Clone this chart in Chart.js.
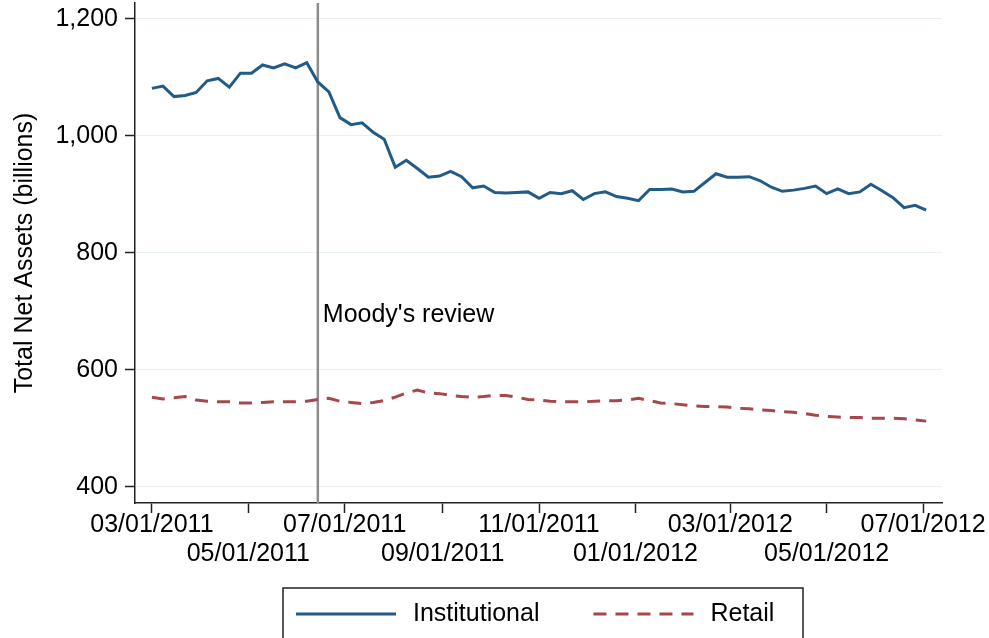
<!DOCTYPE html>
<html>
<head>
<meta charset="utf-8">
<script src="https://cdn.jsdelivr.net/npm/chart.js@4.4.1/dist/chart.umd.min.js"></script>
<style>
  html, body { margin: 0; padding: 0; background: #fff; }
  #wrap { width: 989px; height: 638px; }
</style>
</head>
<body>
<div id="wrap"><canvas id="chart" width="989" height="638"></canvas></div>
<script>
// weekly observations
var weeks = [
    '2011-03-01', '2011-03-08', '2011-03-15', '2011-03-22', '2011-03-29',
    '2011-04-05', '2011-04-12', '2011-04-19', '2011-04-26',
    '2011-05-03', '2011-05-10', '2011-05-17', '2011-05-24', '2011-05-31',
    '2011-06-07', '2011-06-14', '2011-06-21', '2011-06-28',
    '2011-07-05', '2011-07-12', '2011-07-19', '2011-07-26',
    '2011-08-02', '2011-08-09', '2011-08-16', '2011-08-23', '2011-08-30',
    '2011-09-06', '2011-09-13', '2011-09-20', '2011-09-27',
    '2011-10-04', '2011-10-11', '2011-10-18', '2011-10-25',
    '2011-11-01', '2011-11-08', '2011-11-15', '2011-11-22', '2011-11-29',
    '2011-12-06', '2011-12-13', '2011-12-20', '2011-12-27',
    '2012-01-03', '2012-01-10', '2012-01-17', '2012-01-24', '2012-01-31',
    '2012-02-07', '2012-02-14', '2012-02-21', '2012-02-28',
    '2012-03-06', '2012-03-13', '2012-03-20', '2012-03-27',
    '2012-04-03', '2012-04-10', '2012-04-17', '2012-04-24',
    '2012-05-01', '2012-05-08', '2012-05-15', '2012-05-22', '2012-05-29',
    '2012-06-05', '2012-06-12', '2012-06-19', '2012-06-26',
    '2012-07-03'
];

var institutional = [
    1081, 1085, 1067, 1069, 1074, 1094, 1098, 1083, 1107, 1107,
    1121, 1116, 1123, 1116, 1125, 1092, 1075, 1031, 1019, 1022,
    1006, 994, 946, 958, 944, 929, 931, 939, 930, 911,
    914, 903, 902, 903, 904, 893, 903, 901, 906, 891,
    901, 904, 896, 893, 889, 908, 908, 909, 904, 905,
    920, 935, 929, 929, 930, 923, 912, 905, 907, 910,
    914, 901, 909, 901, 904, 917, 906, 894, 877, 881,
    873
];

var retail = [
    553, 550, 552, 554, 548, 546, 545, 545, 543, 543,
    544, 545, 545, 545, 546, 549, 551, 546, 544, 542,
    544, 547, 553, 560, 565, 560, 559, 556, 554, 553,
    554, 556, 556, 553, 549, 548, 546, 545, 545, 545,
    546, 547, 547, 548, 551, 547, 543, 542, 540, 538,
    537, 537, 536, 534, 533, 531, 530, 528, 527, 525,
    522, 520, 519, 518, 518, 517, 517, 517, 516, 514,
    512
];

var tickDates = ['2011-03-01', '2011-05-01', '2011-07-01', '2011-09-01', '2011-11-01',
    '2012-01-01', '2012-03-01', '2012-05-01', '2012-07-01'];
var tickLabels = ['03/01/2011', '05/01/2011', '07/01/2011', '09/01/2011', '11/01/2011',
    '01/01/2012', '03/01/2012', '05/01/2012', '07/01/2012'];
var yTicks = [400, 600, 800, 1000, 1200];

var eventDate = '2011-06-14';
var eventLabel = "Moody's review";

var FONT = '"Liberation Sans", Arial, Helvetica, sans-serif';

// days since 1 March 2011
var dayNumber = function(s) {
    var p = s.split('-');
    return (Date.UTC(+p[0], +p[1] - 1, +p[2]) - Date.UTC(2011, 2, 1)) / 86400000;
};

var toPoints = function(values) {
    return values.map(function(v, i) {
        return {x: dayNumber(weeks[i]), y: v};
    });
};

var tickDays = tickDates.map(dayNumber);

// vertical event line, its caption and the boxed legend
var extras = {
    id: 'extras',
    beforeDatasetsDraw: function(chart) {
        var ctx = chart.ctx;
        var area = chart.chartArea;
        var x = chart.scales.x.getPixelForValue(dayNumber(eventDate));
        ctx.save();
        ctx.strokeStyle = '#8c8c8c';
        ctx.lineWidth = 2.5;
        ctx.beginPath();
        ctx.moveTo(x, area.top);
        ctx.lineTo(x, area.bottom);
        ctx.stroke();
        ctx.fillStyle = '#000';
        ctx.font = '25px ' + FONT;
        ctx.textBaseline = 'middle';
        ctx.fillText(eventLabel, x + 5, chart.scales.y.getPixelForValue(693));
        ctx.restore();
    },
    afterDraw: function(chart) {
        var ctx = chart.ctx;
        var left = 283, top = 588, y = 614;
        ctx.save();
        ctx.font = '25px ' + FONT;
        ctx.textBaseline = 'middle';
        var x = left + 13;
        chart.data.datasets.forEach(function(ds, i) {
            ctx.strokeStyle = ds.borderColor;
            ctx.lineWidth = 3;
            ctx.setLineDash(ds.borderDash || []);
            ctx.beginPath();
            ctx.moveTo(x, y);
            ctx.lineTo(x + 100, y);
            ctx.stroke();
            ctx.setLineDash([]);
            x += 100 + 17;
            ctx.fillStyle = '#000';
            ctx.fillText(ds.label, x, y);
            x += ctx.measureText(ds.label).width;
            if (i < chart.data.datasets.length - 1) {
                x += 54;
            }
        });
        ctx.strokeStyle = '#222';
        ctx.lineWidth = 1.5;
        ctx.strokeRect(left, top, 520, 70);
        ctx.restore();
    }
};

Chart.defaults.font.family = FONT;
Chart.defaults.font.size = 25;
Chart.defaults.color = '#000';

new Chart(document.getElementById('chart'), {
    type: 'line',
    data: {
        datasets: [
            {
                label: 'Institutional',
                data: toPoints(institutional),
                borderColor: '#215b86',
                borderWidth: 3,
                pointRadius: 0,
                tension: 0
            },
            {
                label: 'Retail',
                data: toPoints(retail),
                borderColor: '#a5474b',
                borderWidth: 3,
                borderDash: [13, 9],
                pointRadius: 0,
                tension: 0
            }
        ]
    },
    options: {
        responsive: false,
        devicePixelRatio: 1,
        animation: false,
        layout: {
            padding: {top: 3, right: 47, bottom: 50, left: 0}
        },
        plugins: {
            legend: {display: false},
            tooltip: {enabled: false}
        },
        scales: {
            x: {
                type: 'linear',
                min: -10.7,
                max: 500,
                afterBuildTicks: function(scale) {
                    scale.ticks = tickDays.map(function(d) { return {value: d}; });
                },
                afterFit: function(scale) {
                    scale.height = 85;
                    scale.paddingLeft = 0;
                    scale.paddingRight = 0;
                },
                grid: {
                    drawOnChartArea: false,
                    tickLength: 10,
                    tickColor: '#222',
                    tickWidth: 1.5
                },
                border: {color: '#222', width: 1.5},
                ticks: {
                    autoSkip: false,
                    maxRotation: 0,
                    minRotation: 0,
                    padding: -2,
                    font: {size: 25, lineHeight: 1.15},
                    callback: function(value, index) {
                        var label = tickLabels[index];
                        return index % 2 === 0 ? [label, ''] : ['', label];
                    }
                }
            },
            y: {
                min: 372,
                max: 1227,
                afterBuildTicks: function(scale) {
                    scale.ticks = yTicks.map(function(v) { return {value: v}; });
                },
                afterFit: function(scale) {
                    scale.width = 135;
                    scale.paddingTop = 0;
                    scale.paddingBottom = 0;
                },
                grid: {
                    color: '#e8f0f0',
                    lineWidth: 1,
                    tickLength: 10,
                    tickColor: '#222',
                    tickWidth: 1.5
                },
                border: {color: '#222', width: 1.5},
                ticks: {
                    padding: 7,
                    callback: function(value) {
                        return value.toLocaleString('en-US');
                    }
                },
                title: {
                    display: true,
                    text: 'Total Net Assets (billions)',
                    font: {size: 25},
                    padding: {top: 10, bottom: 0}
                }
            }
        }
    },
    plugins: [extras]
});
</script>
</body>
</html>
